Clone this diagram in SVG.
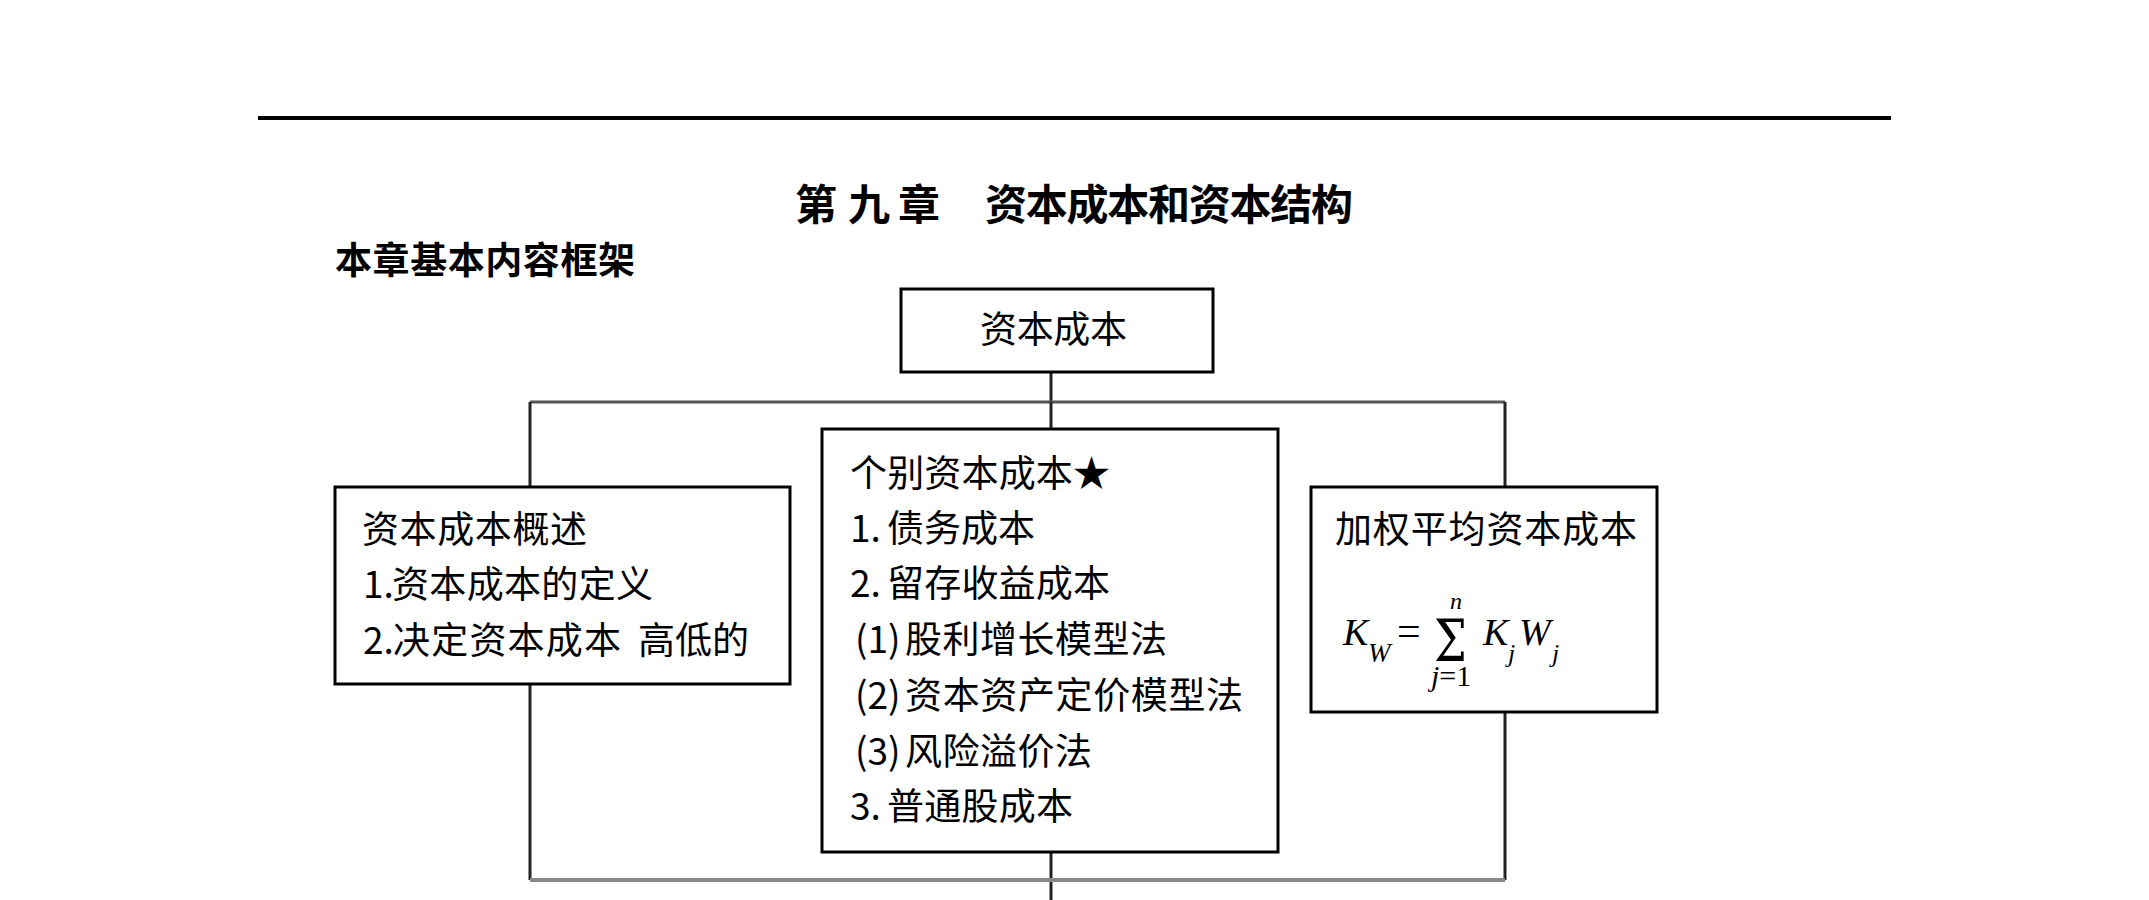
<svg xmlns="http://www.w3.org/2000/svg" width="2149" height="900" viewBox="0 0 2149 900">
<style>
.cj{font-family:"Noto Sans CJK SC","Liberation Sans",sans-serif;font-size:37px;fill:#000}
.hd{font-family:"Noto Sans CJK SC","Liberation Sans",sans-serif;font-weight:bold;fill:#000}
.box{fill:#fff;stroke:#000;stroke-width:3}
.v{stroke:#222;stroke-width:3;fill:none}
.m{font-family:"Liberation Serif",serif;fill:#000}
.i{font-style:italic}
</style>
<rect width="2149" height="900" fill="#fff"/>
<line x1="258" y1="118" x2="1891" y2="118" stroke="#000" stroke-width="4"/>
<text class="hd" font-size="42" y="220"><tspan x="795">第</tspan><tspan x="848">九</tspan><tspan x="898">章</tspan><tspan x="985" textLength="368">资本成本和资本结构</tspan></text>
<text class="hd" font-size="37" x="335" y="274" textLength="300">本章基本内容框架</text>

<g id="connectors">
<line class="v" x1="1051" y1="372" x2="1051" y2="402"/>
<line x1="530" y1="402" x2="1505" y2="402" stroke="#555" stroke-width="3"/>
<line class="v" x1="530" y1="402" x2="530" y2="487"/>
<line class="v" x1="1051" y1="402" x2="1051" y2="429"/>
<line class="v" x1="1505" y1="402" x2="1505" y2="487"/>
<line class="v" x1="530" y1="684" x2="530" y2="880"/>
<line class="v" x1="1051" y1="852" x2="1051" y2="900"/>
<line class="v" x1="1505" y1="712" x2="1505" y2="880"/>
<line x1="530" y1="880" x2="1505" y2="880" stroke="#888" stroke-width="4"/>
</g>

<g id="root">
<rect class="box" x="901" y="289" width="312" height="83"/>
<text class="cj" x="980" y="343" textLength="147">资本成本</text>
</g>

<g id="overview">
<rect class="box" x="335" y="487" width="455" height="197"/>
<text class="cj" x="362" y="543" textLength="225">资本成本概述</text>
<text class="cj" x="363" y="598">1.<tspan x="392" textLength="261">资本成本的定义</tspan></text>
<text class="cj" x="363" y="654">2.<tspan x="393" textLength="228">决定资本成本</tspan><tspan x="638">高低的</tspan></text>
</g>

<g id="individual">
<rect class="box" x="822" y="429" width="456" height="423"/>
<text class="cj" x="850" y="487" textLength="260">个别资本成本★</text>
<text class="cj" x="850" y="542">1.<tspan x="887" textLength="148">债务成本</tspan></text>
<text class="cj" x="850" y="597">2.<tspan x="887" textLength="223">留存收益成本</tspan></text>
<text class="cj" x="855" y="653">(1)<tspan x="905" textLength="262">股利增长模型法</tspan></text>
<text class="cj" x="855" y="709">(2)<tspan x="905" textLength="338">资本资产定价模型法</tspan></text>
<text class="cj" x="855" y="765">(3)<tspan x="905" textLength="187">风险溢价法</tspan></text>
<text class="cj" x="850" y="820">3.<tspan x="887" textLength="186">普通股成本</tspan></text>
</g>

<g id="weighted">
<rect class="box" x="1311" y="487" width="346" height="225"/>
<text class="cj" x="1335" y="543" textLength="302">加权平均资本成本</text>
<text class="m i" x="1343" y="645" font-size="38">K</text>
<text class="m i" x="1368" y="662" font-size="27">W</text>
<text class="m" x="1397" y="645" font-size="42">=</text>
<text x="1434" y="661" font-family="'DejaVu Serif',serif" font-size="58" transform="translate(1434 661) scale(0.8 1) translate(-1434 -661)">Σ</text>
<text class="m i" x="1450" y="609" font-size="24">n</text>
<text class="m" x="1431" y="686" font-size="30"><tspan class="i">j</tspan>=1</text>
<text class="m i" x="1483" y="645" font-size="38">K</text>
<text class="m i" x="1508" y="662" font-size="26">j</text>
<text class="m i" x="1519" y="645" font-size="38">W</text>
<text class="m i" x="1552" y="662" font-size="26">j</text>
</g>
</svg>
